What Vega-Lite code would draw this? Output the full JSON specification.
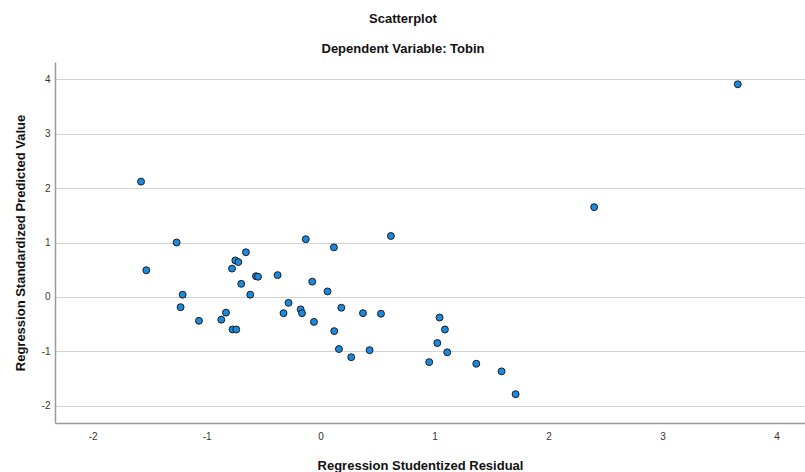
{
  "$schema": "https://vega.github.io/schema/vega-lite/v6.json",
  "autosize": "none",
  "width": 750,
  "height": 361,
  "padding": {"left": 55, "top": 62, "right": 0, "bottom": 49},
  "background": "white",
  "title": {
    "text": "Scatterplot",
    "subtitle": "Dependent Variable: Tobin",
    "anchor": "middle",
    "dx": -27,
    "offset": 6,
    "font": "Liberation Sans",
    "fontSize": 13,
    "fontWeight": "bold",
    "color": "#111111",
    "subtitleFont": "Liberation Sans",
    "subtitleFontSize": 13,
    "subtitleFontWeight": "bold",
    "subtitleColor": "#111111",
    "subtitlePadding": 17
  },
  "config": {
    "view": {"stroke": null},
    "axis": {
      "labelFont": "Liberation Sans",
      "labelFontSize": 10,
      "labelColor": "#333333",
      "titleFont": "Liberation Sans",
      "titleFontSize": 13,
      "titleFontWeight": "bold",
      "titleColor": "#111111",
      "domainColor": "#9a9a9a",
      "domainWidth": 1.5,
      "ticks": false,
      "gridColor": "#d4d4d4",
      "gridWidth": 1.2,
      "labelExpr": "'' + datum.value"
    }
  },
  "data": {
    "values": [
      {"resid": -1.575, "pred": 2.12},
      {"resid": -1.263, "pred": 1.0},
      {"resid": -0.13, "pred": 1.06},
      {"resid": 0.117, "pred": 0.91},
      {"resid": 0.617, "pred": 1.12},
      {"resid": -0.655, "pred": 0.82},
      {"resid": -1.529, "pred": 0.49},
      {"resid": -1.21, "pred": 0.04},
      {"resid": -1.228, "pred": -0.19},
      {"resid": -1.067, "pred": -0.44},
      {"resid": -0.871, "pred": -0.42},
      {"resid": -0.83, "pred": -0.29},
      {"resid": -0.772, "pred": -0.6},
      {"resid": -0.74, "pred": -0.6},
      {"resid": -0.777, "pred": 0.52},
      {"resid": -0.748, "pred": 0.67},
      {"resid": -0.722, "pred": 0.64},
      {"resid": -0.696, "pred": 0.24},
      {"resid": -0.617, "pred": 0.04},
      {"resid": -0.567, "pred": 0.38},
      {"resid": -0.549, "pred": 0.37},
      {"resid": -0.377, "pred": 0.4},
      {"resid": -0.325, "pred": -0.3},
      {"resid": -0.281, "pred": -0.11},
      {"resid": -0.175, "pred": -0.23},
      {"resid": -0.163, "pred": -0.3},
      {"resid": -0.073, "pred": 0.28},
      {"resid": -0.058, "pred": -0.46},
      {"resid": 0.061, "pred": 0.1},
      {"resid": 0.12, "pred": -0.63},
      {"resid": 0.161, "pred": -0.96},
      {"resid": 0.182, "pred": -0.2},
      {"resid": 0.269, "pred": -1.11},
      {"resid": 0.372, "pred": -0.3},
      {"resid": 0.43, "pred": -0.98},
      {"resid": 0.53, "pred": -0.31},
      {"resid": 3.66, "pred": 3.91},
      {"resid": 2.4, "pred": 1.65},
      {"resid": 1.044, "pred": -0.38},
      {"resid": 1.091, "pred": -0.6},
      {"resid": 1.024, "pred": -0.85},
      {"resid": 1.111, "pred": -1.02},
      {"resid": 0.953, "pred": -1.2},
      {"resid": 1.366, "pred": -1.23},
      {"resid": 1.588, "pred": -1.37},
      {"resid": 1.711, "pred": -1.79}
    ]
  },
  "mark": {
    "type": "point",
    "shape": "circle",
    "filled": true,
    "fill": "#1a8ae0",
    "stroke": "#1c1c1c",
    "strokeWidth": 1,
    "opacity": 1,
    "size": 48
  },
  "encoding": {
    "x": {
      "field": "resid",
      "type": "quantitative",
      "scale": {"domain": [-2.33, 4.25], "nice": false, "zero": false},
      "axis": {
        "title": "Regression Studentized Residual",
        "values": [-2, -1, 0, 1, 2, 3, 4],
        "grid": false,
        "labelPadding": 8,
        "titlePadding": 18,
        "titleX": 365
      }
    },
    "y": {
      "field": "pred",
      "type": "quantitative",
      "scale": {"domain": [-2.32, 4.32], "nice": false, "zero": false},
      "axis": {
        "title": "Regression Standardized Predicted Value",
        "values": [-2, -1, 0, 1, 2, 3, 4],
        "grid": true,
        "labelPadding": 5,
        "titlePadding": 14
      }
    }
  }
}
